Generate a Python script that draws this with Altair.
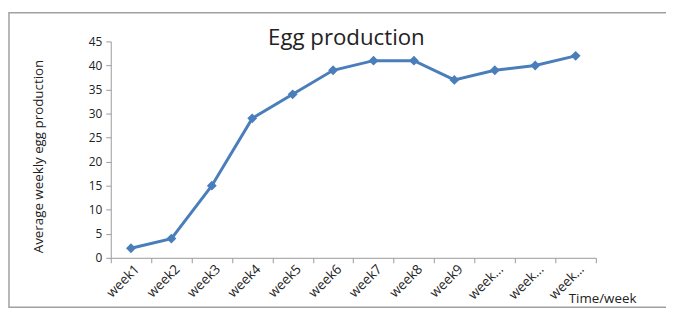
import altair as alt
import pandas as pd

weeks = ["week1", "week2", "week3", "week4", "week5", "week6",
         "week7", "week8", "week9", "week10", "week11", "week12"]
eggs = [2, 4, 15, 29, 34, 39, 41, 41, 37, 39, 40, 42]
y_ticks = [0, 5, 10, 15, 20, 25, 30, 35, 40, 45]

df = pd.DataFrame({"week": weeks, "eggs": eggs})
FONT = "Open Sans"
BLUE = "#4A7EBB"

frame = alt.Chart(pd.DataFrame({"a": [0]})).mark_rect(
    filled=False, stroke="#a0a0a0", strokeWidth=1.5, clip=False
).encode(
    x=alt.value(-103), x2=alt.value(600),
    y=alt.value(-29), y2=alt.value(269)
)

line = alt.Chart(df).mark_line(
    color=BLUE, strokeWidth=3,
    point=alt.OverlayMarkDef(shape="diamond", size=100, filled=True, color=BLUE, opacity=1)
).encode(
    x=alt.X("week:N", sort=weeks,
            scale=alt.Scale(paddingInner=0, paddingOuter=0),
            axis=alt.Axis(
                title="Time/week", titleX=463, titleY=45, titleAlign="left",
                titleBaseline="alphabetic", titleFont=FONT, titleFontSize=13.5,
                titleFontWeight="normal", titleColor="#222",
                labelAngle=-45, labelAlign="right", labelBaseline="middle",
                labelPadding=4, labelOffset=6, labelFont=FONT, labelFontSize=13.5,
                labelColor="#222",
                labelExpr="length(datum.label) > 5 ? 'week...' : datum.label",
                tickBand="extent", tickSize=5, tickColor="#999", domainColor="#999",
                grid=False)),
    y=alt.Y("eggs:Q",
            scale=alt.Scale(domain=[0, 45], nice=False),
            axis=alt.Axis(
                values=y_ticks, title="Average weekly egg production",
                titleAngle=-90, titleX=-73, titleY=116, titleAlign="center",
                titleBaseline="middle", titleFont=FONT, titleFontSize=13.5,
                titleFontWeight="normal", titleColor="#222",
                labelFont=FONT, labelFontSize=12, labelColor="#222", labelPadding=4,
                tickSize=5, tickColor="#999", domainColor="#999", grid=False))
)

chart = alt.layer(frame, line).properties(
    width=491, height=219,
    autosize=alt.AutoSizeParams(type="none"),
    padding={"left": 104, "top": 32, "right": 71, "bottom": 52},
    background="white",
    title=alt.TitleParams(
        text="Egg production", font=FONT, fontSize=22.5, fontWeight="normal",
        color="#222", anchor="middle", frame="group", baseline="alphabetic",
        offset=0, dy=56, dx=-7)
).configure_view(stroke=None)

chart.save("out.html", embed_options={"renderer": "svg", "actions": False})
